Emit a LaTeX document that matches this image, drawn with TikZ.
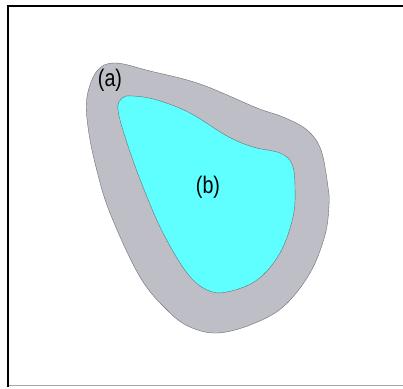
\documentclass[tikz,border=0pt]{standalone}
\usepackage{fontspec}
\newfontfamily\labfont[FakeStretch=0.82]{Liberation Sans}
\definecolor{ringgray}{RGB}{190,190,199}
\definecolor{coreCyan}{RGB}{95,255,255}
\definecolor{edgegray}{RGB}{110,110,115}
\begin{document}
\begin{tikzpicture}[x=1pt,y=-1pt,
  lab/.style={inner sep=0pt,font=\labfont\fontsize{24}{26}\selectfont}]
\useasboundingbox (0,0) rectangle (403,388);
\fill[white] (0,0) rectangle (403,388);
% frame
\draw[black,line width=2.2pt] (8,387) -- (8,6) -- (403,6);
\draw[gray!70,line width=1.2pt] (9,385.5) -- (403,385.5);
% outer region
\draw[edgegray,line width=0.4pt,fill=ringgray] plot[smooth cycle,tension=0.6] coordinates {
 (115,63) (150,71) (200,84) (257,108) (283,117) (307,130) (321,150)
 (328,187) (329,205) (325,235) (310,273) (283,307) (250,325) (217,333)
 (190,327) (168,311) (140,277) (110,213) (96,167) (88,127) (87,97) (97,71)};
% inner region
\draw[edgegray,line width=0.4pt,fill=coreCyan] plot[smooth cycle,tension=0.6] coordinates {
 (133,96) (157,100) (190,113) (227,136) (253,147) (280,153) (292,164)
 (295,187) (293,217) (280,253) (257,280) (227,292) (207,290) (187,273)
 (163,233) (143,187) (127,143) (118,110) (122,98)};
\node[lab] (a) at (110,80) {(a)};
\node[lab] (b) at (208,187) {(b)};
\end{tikzpicture}
\end{document}
